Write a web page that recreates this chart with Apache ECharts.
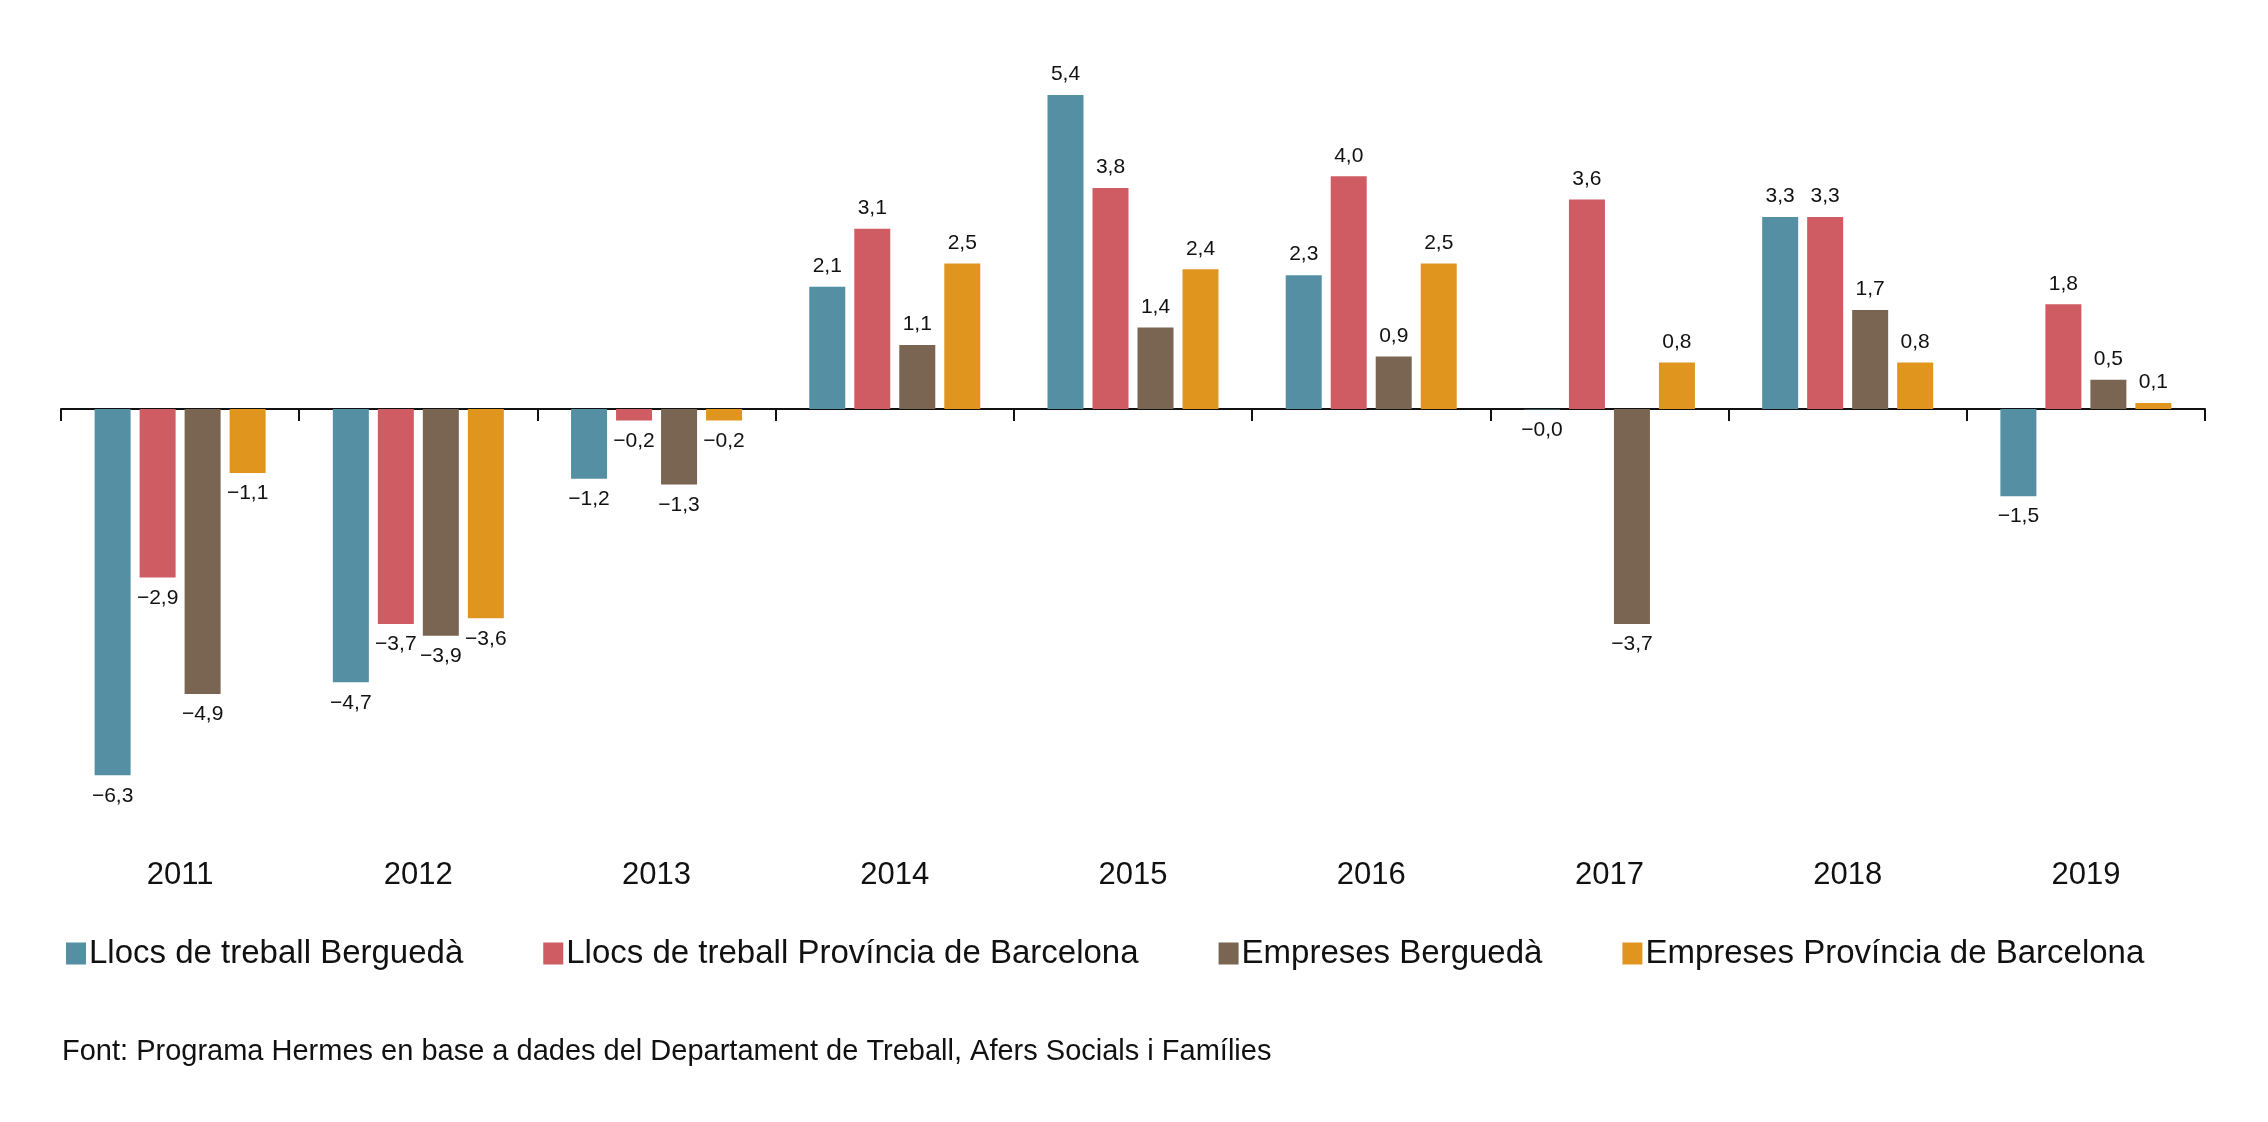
<!DOCTYPE html><html><head><meta charset="utf-8"><script src="https://cdn.jsdelivr.net/npm/echarts@6/dist/echarts.min.js"></script>
<style>html,body{margin:0;background:#fff}#c{width:2268px;height:1122px}</style></head><body><div id="c"></div><script>
const years=['2011','2012','2013','2014','2015','2016','2017','2018','2019'];
const names=['Llocs de treball Berguedà','Llocs de treball Província de Barcelona','Empreses Berguedà','Empreses Província de Barcelona'];
const llocsBergueda=[-6.3,-4.7,-1.2,2.1,5.4,2.3,-0.01,3.3,-1.5];
const llocsBarcelona=[-2.9,-3.7,-0.2,3.1,3.8,4.0,3.6,3.3,1.8];
const empresesBergueda=[-4.9,-3.9,-1.3,1.1,1.4,0.9,-3.7,1.7,0.5];
const empresesBarcelona=[-1.1,-3.6,-0.2,2.5,2.4,2.5,0.8,0.8,0.1];
const colors=['#548fa3','#cf5c63','#7a6553','#e0961e'];
const F='"Liberation Sans", Arial, sans-serif';
function fmt(v){const s=Math.abs(v).toFixed(1).replace('.',',');return (v<0?'−':'')+s;}
const series=[llocsBergueda,llocsBarcelona,empresesBergueda,empresesBarcelona].map((d,i)=>({
 name:names[i],type:'bar',xAxisIndex:0,barWidth:36,barGap:'25%',itemStyle:{color:colors[i]},
 data:d.map(v=>({value:v,label:{position:v<0?'bottom':'top'}})),
 label:{show:true,distance:10,fontFamily:F,fontSize:21,color:'#111',formatter:p=>fmt(p.value)}
}));
const chart=echarts.init(document.getElementById('c'));
chart.setOption({
 animation:false,color:colors,
 grid:{left:61,right:63,top:60,bottom:306},
 legend:{left:61,top:932,itemWidth:20,itemHeight:22,itemGap:80,icon:'rect',data:names,
  textStyle:{fontFamily:F,fontSize:33,color:'#111',padding:[0,0,0,-2]}},
 title:{text:'Font: Programa Hermes en base a dades del Departament de Treball, Afers Socials i Famílies',left:57,top:1032,
  textStyle:{fontFamily:F,fontSize:29,fontWeight:'normal',color:'#111'}},
 xAxis:[{type:'category',data:years,axisLine:{onZero:true,lineStyle:{color:'#111',width:2}},
   axisTick:{show:true,length:12,lineStyle:{color:'#111',width:2}},axisLabel:{show:false}},
  {type:'category',data:years,position:'bottom',axisLine:{show:false},axisTick:{show:false},
   axisLabel:{margin:44,fontFamily:F,fontSize:31,color:'#111'}}],
 yAxis:{type:'value',min:-7,max:6,show:false,splitLine:{show:false}},
 series:series
});
</script></body></html>
